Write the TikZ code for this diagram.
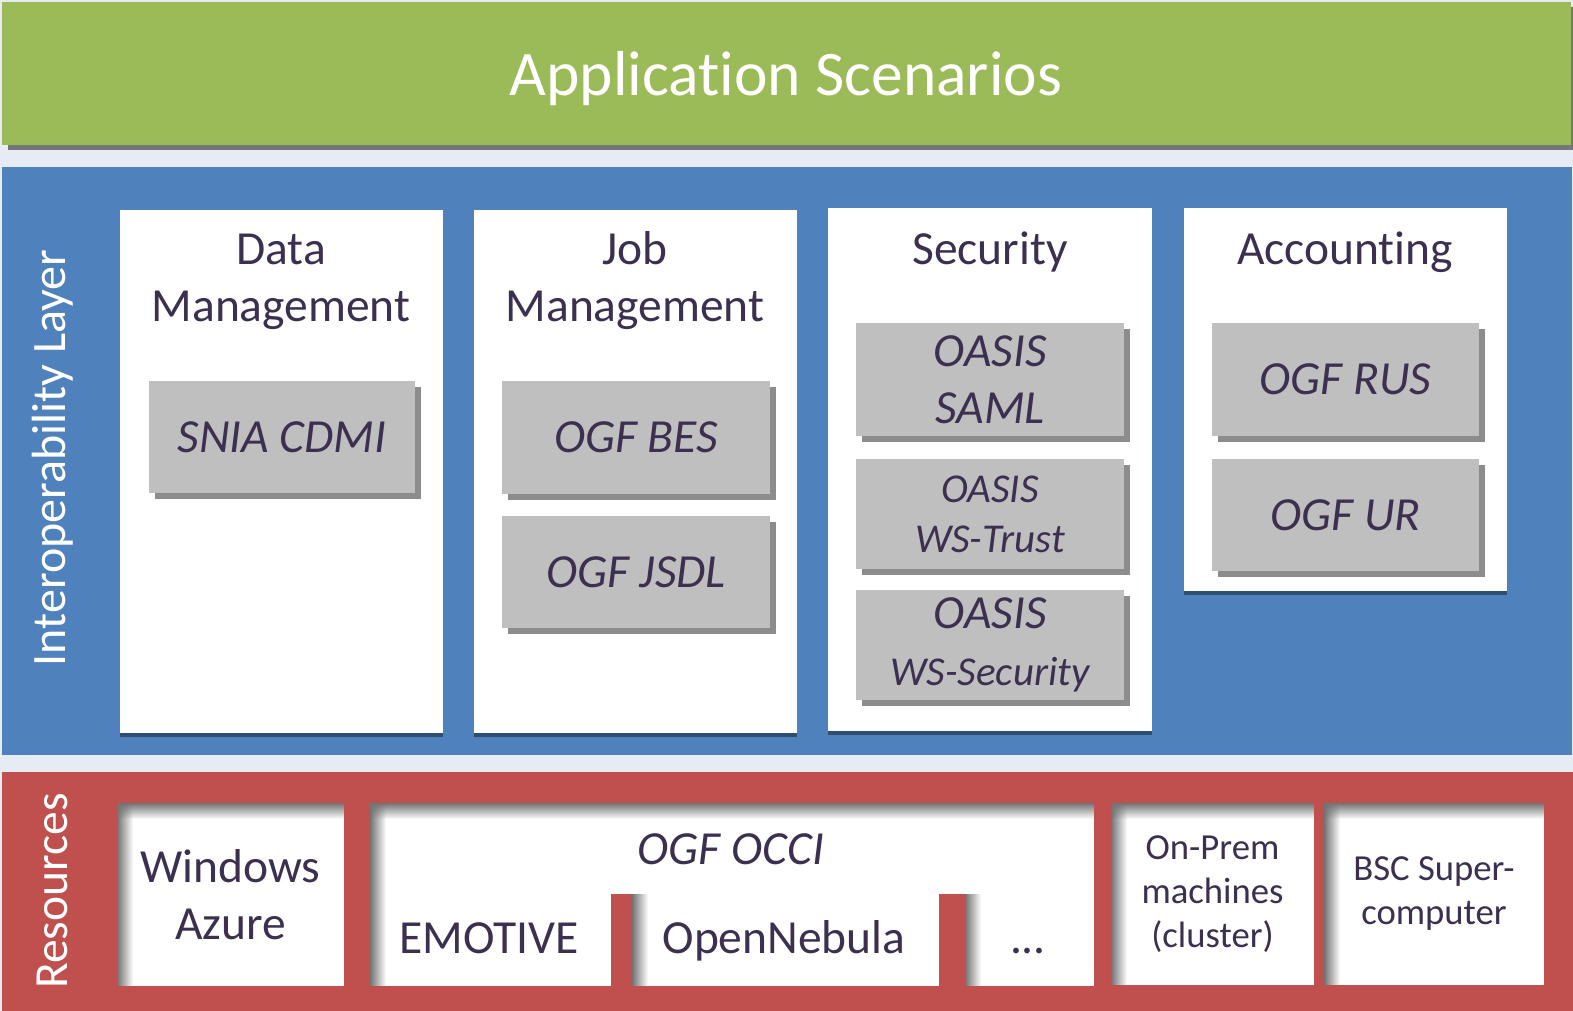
\documentclass[tikz,border=0pt]{standalone}
\usepackage{fontspec}
\setmainfont[Ligatures={NoCommon}]{Carlito}
\usetikzlibrary{positioning,shadows,fadings}
\definecolor{bgblue}{HTML}{E7ECF4}
\definecolor{appgreen}{HTML}{9BBB59}
\definecolor{layerblue}{HTML}{4F81BD}
\definecolor{resred}{HTML}{C0504D}
\definecolor{stdgray}{HTML}{BFBFBF}
\definecolor{txtdark}{HTML}{3C3050}
\definecolor{boxshadow}{HTML}{2F4C72}
\newcommand\ftitle{\fontsize{63.5}{76}\selectfont}
\newcommand\fbig{\fontsize{47.5}{57}\selectfont}
\newcommand\fmid{\fontsize{41}{50}\selectfont}
\newcommand\fsmall{\fontsize{36.7}{44}\selectfont}
% inner shadow along the top and left edge of a resource box
\newcommand\inshade[1]{%
  \fill[black!55,path fading=east] (#1.north west) rectangle ([xshift=16pt]#1.south west);
  \fill[black!55,path fading=south] (#1.north west) rectangle ([yshift=-16pt]#1.north east);}

\begin{document}
\begin{tikzpicture}[x=1pt,y=-1pt,
  every node/.style={inner sep=0pt,outer sep=0pt},
  layer/.style={anchor=north west},
  wbox/.style={anchor=north west,fill=white,
    drop shadow={shadow xshift=0pt,shadow yshift=-4pt,opacity=1,fill=boxshadow}},
  gbox/.style={anchor=north west,fill=stdgray,text=txtdark,align=center,font=\fbig\itshape,
    drop shadow={shadow xshift=6pt,shadow yshift=-6pt,opacity=1,fill=black!45}},
  rbox/.style={anchor=north west,fill=white,text=txtdark,align=center},
  bar/.style={anchor=north west,fill=resred},
  head/.style={anchor=base,text=txtdark,align=center,font=\fbig},
  side/.style={rotate=90,anchor=base,text=white,font=\fbig}]

  \fill[bgblue] (0,0) rectangle (1573,1011);
  \useasboundingbox (0,0) rectangle (1573,1011);

  % application layer
  \node[layer,fill=appgreen,minimum width=1569pt,minimum height=143pt,
    drop shadow={shadow xshift=6pt,shadow yshift=-5pt,opacity=1,fill=black!50!bgblue}] (app) at (2,2) {};
  \node[anchor=base,text=white,font=\ftitle] (appttl) at (786,96) {Application Scenarios};

  % interoperability layer
  \node[layer,fill=layerblue,minimum width=1570pt,minimum height=588pt] (interop) at (2,167) {};
  \node[side,font=\fontsize{48}{57}\selectfont] (interopttl) at (65,458) {Interoperability Layer};

  \node[wbox,minimum width=323pt,minimum height=523pt] (data) at (120,210) {};
  \node[wbox,minimum width=323pt,minimum height=523pt] (job)  at (474,210) {};
  \node[wbox,minimum width=324pt,minimum height=523pt] (sec)  at (828,208) {};
  \node[wbox,minimum width=323pt,minimum height=383pt] (acc)  at (1184,208) {};

  \node[head] (datattl) at (281,321) {Data\\Management};
  \node[head] (jobttl)  at (635,321) {Job\\Management};
  \node[head] (secttl)  at (990,264) {Security};
  \node[head] (accttl)  at (1345,264) {Accounting};

  \node[gbox,minimum width=266pt,minimum height=112pt] (cdmi)  at (149,381) {SNIA CDMI};
  \node[gbox,minimum width=268pt,minimum height=113pt] (bes)   at (502,381) {OGF BES};
  \node[gbox,minimum width=268pt,minimum height=112pt] (jsdl)  at (502,516) {OGF JSDL};
  \node[gbox,minimum width=268pt,minimum height=113pt] (saml)  at (856,323) {OASIS\\SAML};
  \node[gbox,minimum width=268pt,minimum height=110pt,font=\fmid\itshape] (trust) at (856,459) {OASIS\\WS-Trust};
  \node[gbox,minimum width=268pt,minimum height=110pt] (wssec) at (856,590) {OASIS\\{\fmid WS-Security}};
  \node[gbox,minimum width=267pt,minimum height=113pt] (rus)   at (1212,323) {OGF RUS};
  \node[gbox,minimum width=267pt,minimum height=112pt] (ur)    at (1212,459) {OGF UR};

  % resources layer
  \node[layer,fill=resred,minimum width=1571pt,minimum height=239pt] (res) at (2,772) {};
  \node[side] (resttl) at (67,891) {Resources};

  \node[rbox,minimum width=227pt,minimum height=183pt,font=\fbig] (azure) at (117,803) {Windows\\Azure};
  \node[rbox,minimum width=724pt,minimum height=183pt] (occi) at (370,803) {};
  \node[rbox,minimum width=203pt,minimum height=182pt,font=\fsmall] (onprem) at (1111,803) {On-Prem\\machines\\(cluster)};
  \node[rbox,minimum width=220pt,minimum height=182pt,font=\fsmall] (bsc) at (1324,803) {BSC Super-\\computer};
  \node[bar,minimum width=21pt,minimum height=92pt] (bar1) at (611,894) {};
  \node[bar,minimum width=26pt,minimum height=92pt] (bar2) at (939,894) {};

  \inshade{azure}
  \inshade{occi}
  \inshade{onprem}
  \inshade{bsc}
  \fill[black!55,path fading=east] (bar1.north east) rectangle ([xshift=16pt]bar1.south east);
  \fill[black!55,path fading=east] (bar2.north east) rectangle ([xshift=16pt]bar2.south east);

  \node[head,font=\fbig\itshape] (occittl) at (731,864) {OGF OCCI};
  \node[head] (emotive) at (489,953) {EMOTIVE};
  \node[head] (nebula)  at (784,953) {OpenNebula};
  \node[head] (more)    at (1028,953) {...};
\end{tikzpicture}
\end{document}
